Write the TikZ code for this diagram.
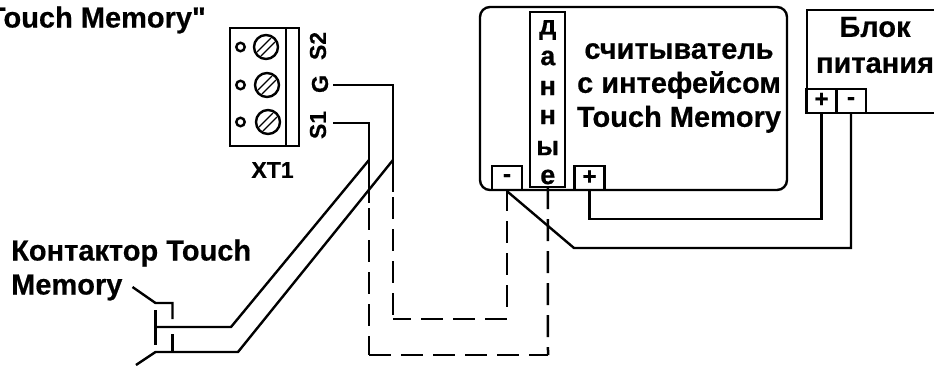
\documentclass[tikz,border=0pt]{standalone}
\usepackage{fontspec}
\setmainfont{Liberation Sans}[Ligatures=TeXOff,BoldFeatures={FakeBold=0.5}]
\tikzset{
  wire/.style={line width=2.4pt},
  dashwire/.style={line width=2.5pt,dash pattern=on 22pt off 10pt},
  box/.style={rectangle,draw,line width=2.4pt,inner sep=0pt},
  pin/.style={box,minimum width=30pt,minimum height=24pt,font=\fontsize{24}{24}\selectfont\bfseries},
  caption/.style={inner sep=0pt,align=center,font=\fontsize{29}{34}\selectfont\bfseries},
  small/.style={inner sep=0pt,font=\fontsize{23}{23}\selectfont\bfseries},
  letter/.style={inner sep=0pt,font=\fontsize{27}{27}\selectfont\bfseries}
}
\begin{document}
\begin{tikzpicture}[x=1pt,y=-1pt]
    \useasboundingbox (0,0) rectangle (934,365);
    % terminal block
    \node[box,minimum width=69pt,minimum height=118pt] (block) at (264.5,87) {};
    \coordinate (divtop) at (286,28);
    \coordinate (divbot) at (286,146);
    \draw[wire] (divtop) -- (divbot);
    \foreach \sx/\sy/\name in {266/47/a,267/85/b,268/122/c} {
      \node[circle,draw,line width=2.4pt,minimum size=24pt,inner sep=0pt] (screw\name) at (\sx,\sy) {};
      \node[circle,draw,line width=2.4pt,minimum size=8.5pt,inner sep=0pt] (hole\name) at (240.5,\sy) {};
      \draw[line width=1.2pt] ({\sx-9},{\sy+5}) -- ({\sx+5},{\sy-9});
      \draw[line width=1.2pt] ({\sx-5},{\sy+9}) -- ({\sx+9},{\sy-5});
    }
    \node[small,rotate=90] (s2) at (318,46) {S2};
    \node[small,rotate=90] (g) at (320,84) {G};
    \node[small,rotate=90] (s1) at (318,125) {S1};
    \node[small] (xt1) at (272.5,170) {XT1};
    \node[caption,anchor=east] (title) at (206,20) {"Touch Memory"};
    % reader
    \node[box,rounded corners=10pt,minimum width=307pt,minimum height=183pt] (reader) at (633.5,98.5) {};
    \node[box,minimum width=35pt,minimum height=175pt] (data) at (547.75,99.5) {};
    \node[pin] (rminus) at (507,178) {\raisebox{-3pt}{-}};
    \node[pin] (rplus) at (589.5,178) {\raisebox{1pt}{+}};
    \foreach \ly/\lt in {30/д,58/а,88/н,117/н,148/ы,177/е}
      \node[letter] at (547.75,\ly) {\lt};
    \node[caption] (readertext) at (679,88) {считыватель\\с интефейсом\\Touch Memory};
    % power supply
    \node[box,minimum width=150pt,minimum height=103pt] (power) at (882,61.5) {};
    \node[pin] (pplus) at (821.5,101) {\raisebox{2pt}{+}};
    \node[pin] (pminus) at (851,101) {\raisebox{-3pt}{-}};
    \node[caption] (powertext) at (875,45) {Блок\\[2pt]питания};
    % contactor
    \node[caption,anchor=west,align=left] (contact) at (11,270) {Контактор Touch\\Memory};
    \coordinate (ctop) at (155.5,303);
    \coordinate (ctopr) at (172.5,303);
    \coordinate (clead) at (132.5,287);
    \coordinate (cbarA) at (155.5,310);
    \coordinate (cbarB) at (155.5,345);
    \coordinate (cA) at (155.5,327);
    \coordinate (cB) at (155.5,352);
    \coordinate (bendA) at (231,327);
    \coordinate (bendB) at (238,352);
    \coordinate (tail) at (136,365);
    \coordinate (jS1) at (369,160);
    \coordinate (jG) at (393,160);
    \coordinate (cornerG) at (393,319);
    \coordinate (cornerS) at (369,355);
    \coordinate (cornerE) at (548,355);
    \coordinate (cornerM) at (507,319);
    \draw[wire] (clead) -- (ctop) -- (ctopr) -- (172.5,319);
    \draw[wire] (172.5,334) -- (172.5,352);
    \draw[wire] (cbarA) -- (cbarB);
    \draw[wire] (cA) -- (bendA) -- (jS1);
    \draw[wire] (tail) -- (cB) -- (bendB) -- (jG);
    % wires
    \draw[wire] (333,85) -- (393,85) -- (jG) -- (393,192);
    \draw[wire] (333,123) -- (369,123) -- (jS1) -- (369,203);
    \draw[dashwire] (393,197) -- (cornerG);
    \draw[dashwire,dash phase=4pt] (cornerG) -- (cornerM);
    \draw[dashwire,dash phase=2pt] (rminus.south) -- (507,307);
    \draw[dashwire] (369,208) -- (cornerS);
    \draw[dashwire] (cornerS) -- (cornerE);
    \draw[dashwire,dash phase=1pt] (data.south) -- (cornerE);
    \draw[wire] (rplus.south) -- (589.5,219) -- (821.5,219) -- (pplus.south);
    \draw[wire] (rminus.south) -- (574,248) -- (851,248) -- (pminus.south);
\end{tikzpicture}
\end{document}
